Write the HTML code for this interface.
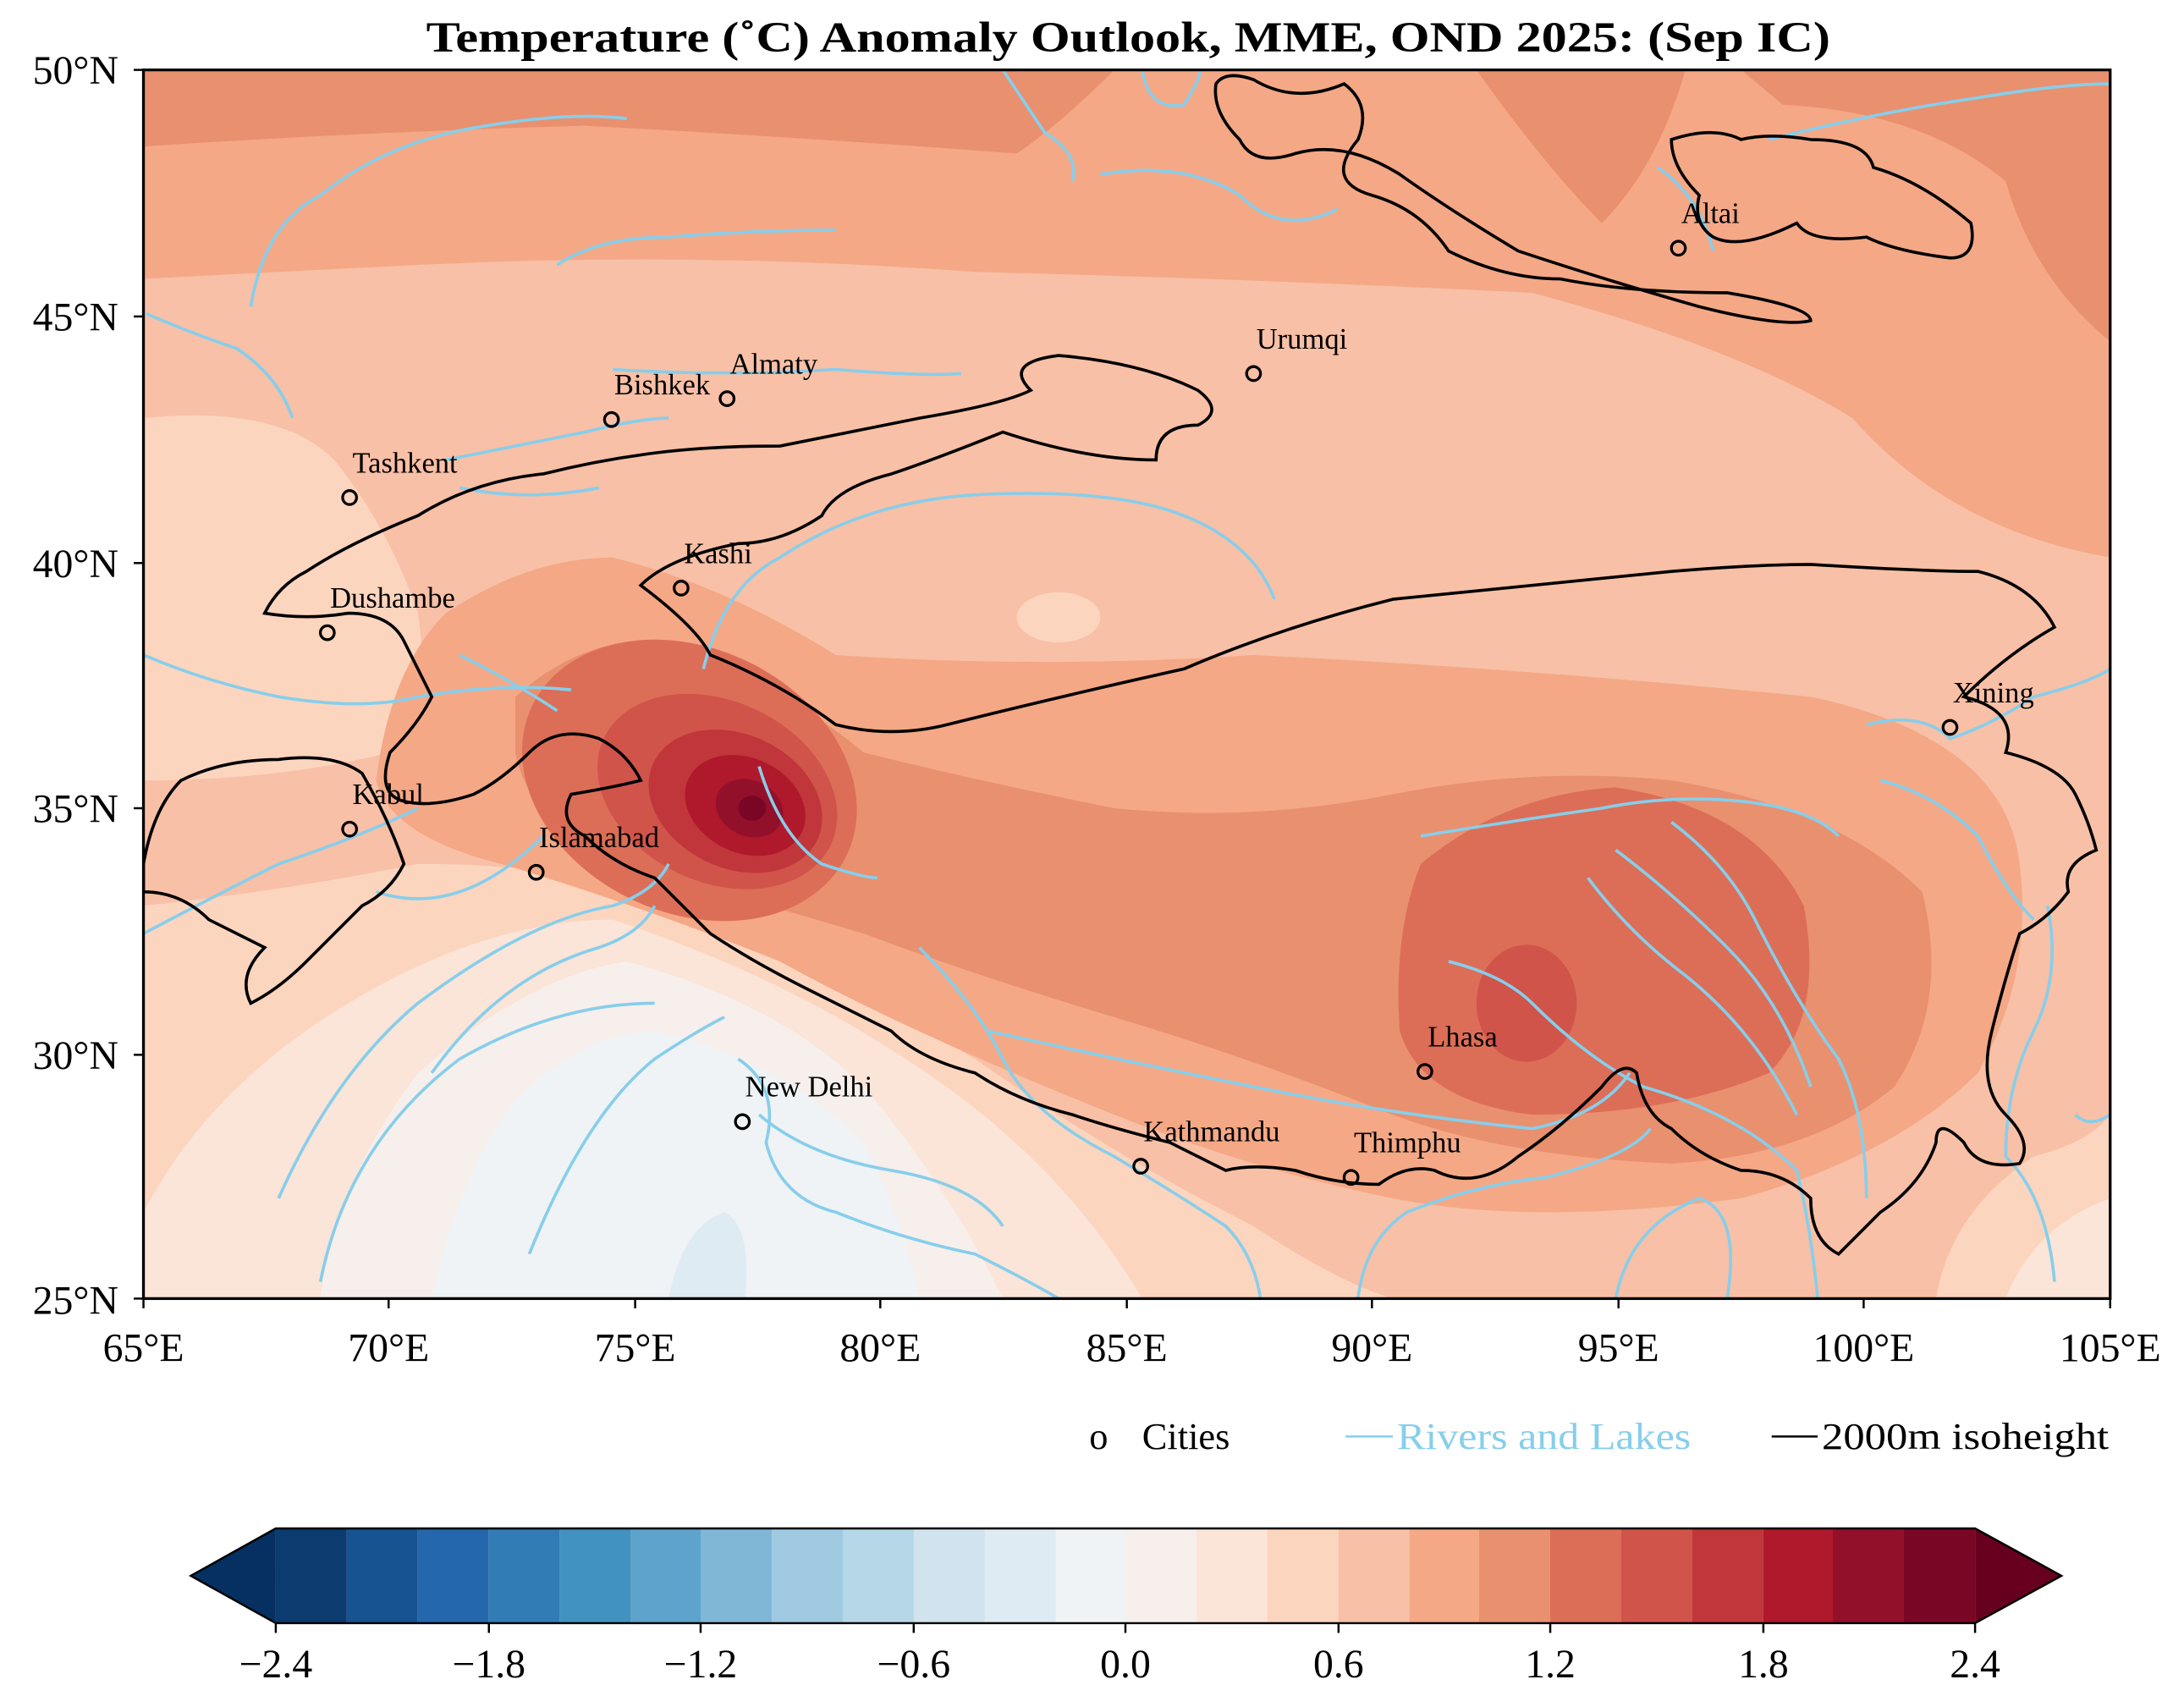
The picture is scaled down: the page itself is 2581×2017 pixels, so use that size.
<!DOCTYPE html>
<html><head><meta charset="utf-8"><style>html,body{margin:0;padding:0;background:#fff}svg{display:block}</style></head><body>
<svg width="2581" height="2017" viewBox="0 0 1568 1225" xmlns="http://www.w3.org/2000/svg" font-family="Liberation Serif, serif">
<defs><clipPath id="m"><rect x="103" y="50" width="1412" height="882"/></clipPath></defs>
<text x="810" y="37" text-anchor="middle" font-size="31" font-weight="bold" textLength="1008" lengthAdjust="spacingAndGlyphs">Temperature (˚C) Anomaly Outlook, MME, OND  2025:  (Sep IC)</text>
<g clip-path="url(#m)">
<rect x="103" y="50" width="1412" height="882" fill="#f8c0a6"/>
<path d="M103,50 H1515 V400 Q1400,380 1330,300 Q1250,250 1100,210 Q900,200 700,195 Q500,180 300,190 Q200,195 103,200 Z" fill="#f4a886"/>
<path d="M103,50 H800 Q760,90 730,110 Q600,100 420,90 Q250,95 103,105 Z" fill="#e9906f"/>
<path d="M1060,50 H1210 Q1190,120 1150,160 Q1110,120 1060,50 Z" fill="#e9906f"/>
<path d="M1250,50 H1515 V245 Q1460,200 1440,130 Q1380,80 1280,75 Z" fill="#e9906f"/>
<path d="M103,300 Q200,290 240,330 Q280,380 300,440 Q310,500 280,540 Q200,560 103,560 Z" fill="#fcd5bf"/>
<ellipse cx="760" cy="443" rx="30" ry="18" fill="#fcd5bf"/>
<path d="M103,650 Q200,640 300,620 Q420,620 500,650 Q600,700 700,760 Q800,830 900,880 Q960,920 1000,932 H103 Z" fill="#fcd5bf"/>
<path d="M103,870 Q150,780 250,720 Q350,660 440,660 Q560,700 650,760 Q760,830 820,932 H103 Z" fill="#fbe4d8"/>
<path d="M230,932 Q240,850 300,770 Q380,700 450,690 Q560,720 620,780 Q680,850 720,932 Z" fill="#f7efec"/>
<path d="M310,932 Q330,840 370,790 Q420,740 470,740 Q560,760 620,820 Q650,880 660,932 Z" fill="#eff3f5"/>
<path d="M480,932 Q490,880 520,870 Q540,880 535,932 Z" fill="#dfebf3"/>
<path d="M1390,932 Q1400,870 1460,830 Q1500,820 1515,800 V932 Z" fill="#fcd5bf"/>
<path d="M1440,932 Q1460,880 1515,860 V932 Z" fill="#fbe4d8"/>
<path d="M320,440 Q380,400 440,400 Q520,420 600,470 Q750,480 900,470 Q1100,480 1300,500 Q1440,530 1450,620 Q1460,700 1420,770 Q1360,830 1250,860 Q1100,880 1000,860 Q900,840 800,800 Q650,740 560,690 Q460,650 360,620 Q280,600 270,560 Q280,480 320,440 Z" fill="#f4a886"/>
<path d="M370,500 Q420,455 480,460 Q560,490 620,540 Q700,560 800,580 Q900,590 1000,570 Q1100,550 1200,560 Q1320,580 1380,640 Q1400,720 1360,780 Q1300,830 1200,835 Q1080,830 1000,800 Q900,760 800,730 Q700,700 620,670 Q520,640 440,620 Q380,590 370,540 Z" fill="#e9906f"/>
<path d="M1020,620 Q1080,570 1160,565 Q1260,580 1295,650 Q1310,730 1270,770 Q1200,800 1100,800 Q1020,790 1005,740 Q1000,670 1020,620 Z" fill="#dc6e57"/>
<ellipse cx="1096" cy="720" rx="36" ry="42" fill="#d0544a"/>
<ellipse cx="495" cy="560" rx="125" ry="95" transform="rotate(25 495 560)" fill="#dc6e57"/>
<ellipse cx="515" cy="568" rx="90" ry="65" transform="rotate(25 515 568)" fill="#d0544a"/>
<ellipse cx="528" cy="575" rx="65" ry="48" transform="rotate(25 528 575)" fill="#c0363a"/>
<ellipse cx="535" cy="578" rx="45" ry="34" transform="rotate(25 535 578)" fill="#b0182c"/>
<ellipse cx="538" cy="580" rx="25" ry="20" transform="rotate(25 538 580)" fill="#93102a"/>
<ellipse cx="540" cy="580" rx="10" ry="9" fill="#790624"/>
<g fill="none" stroke="#87ceeb" stroke-width="2.2">
<path d="M720,50 Q740,80 750,95 Q775,110 770,130"/>
<path d="M820,50 Q825,80 850,75 Q860,60 862,50"/>
<path d="M180,220 Q190,160 230,140 Q280,100 350,90 Q410,80 450,85"/>
<path d="M400,190 Q430,170 480,170 Q540,165 600,165"/>
<path d="M105,225 Q140,240 170,250 Q200,270 210,300"/>
<path d="M440,265 Q520,270 600,265 Q660,270 690,268"/>
<path d="M790,125 Q850,115 890,140 Q920,170 960,150"/>
<path d="M1270,100 Q1350,80 1420,70 Q1480,60 1515,60"/>
<path d="M1190,120 Q1220,140 1230,180"/>
<path d="M320,330 Q370,320 420,310 Q460,300 480,300"/>
<path d="M330,350 Q380,360 430,350"/>
<path d="M505,480 Q520,420 560,400 Q620,360 700,355 Q800,350 850,370 Q900,390 915,430"/>
<path d="M103,470 Q150,490 200,500 Q260,510 300,500 Q360,490 410,495"/>
<path d="M330,470 Q370,490 400,510"/>
<path d="M103,670 Q160,640 200,620 Q260,600 300,580"/>
<path d="M270,640 Q300,650 330,640 Q360,630 390,600"/>
<path d="M200,860 Q240,770 300,720 Q380,660 440,650 Q470,640 480,620"/>
<path d="M310,770 Q360,700 430,680 Q460,670 470,650"/>
<path d="M230,920 Q250,820 330,760 Q400,720 470,720"/>
<path d="M380,900 Q420,800 470,760 Q500,740 520,730"/>
<path d="M545,550 Q560,600 590,620 Q620,630 630,630"/>
<path d="M530,760 Q560,780 550,820 Q560,860 600,870 Q650,890 700,900 Q740,920 760,932"/>
<path d="M545,800 Q580,830 640,840 Q700,850 720,880"/>
<path d="M660,680 Q700,720 720,760 Q740,800 800,830 Q850,860 880,880 Q900,900 905,932"/>
<path d="M710,740 Q800,760 900,780 Q1000,800 1100,810 Q1150,800 1170,770"/>
<path d="M975,932 Q980,890 1010,870 Q1060,850 1110,845 Q1170,830 1185,810"/>
<path d="M1020,600 Q1080,590 1150,580 Q1200,570 1250,575 Q1300,580 1320,600"/>
<path d="M1040,690 Q1080,700 1100,720 Q1140,760 1180,780 Q1250,800 1290,840 Q1300,880 1305,932"/>
<path d="M1140,630 Q1170,670 1210,700 Q1260,740 1290,800"/>
<path d="M1160,610 Q1200,640 1240,680 Q1280,720 1300,780"/>
<path d="M1200,590 Q1240,620 1260,660 Q1290,720 1320,760 Q1340,800 1340,860"/>
<path d="M1340,520 Q1380,510 1400,530 Q1430,520 1460,500 Q1500,490 1515,480"/>
<path d="M1350,560 Q1390,570 1420,600 Q1440,640 1460,660"/>
<path d="M1470,650 Q1480,700 1460,740 Q1440,780 1440,830 Q1470,860 1475,920"/>
<path d="M1490,800 Q1500,810 1515,800"/>
<path d="M1160,932 Q1170,880 1220,860 Q1250,870 1240,932"/>
</g>
<g fill="none" stroke="#000" stroke-width="2.2">
<path d="M873,60 Q880,50 900,57 Q930,75 965,60 Q985,75 975,100 Q950,130 985,140 Q1020,150 1040,180 Q1080,200 1120,200 Q1170,210 1240,210 Q1300,220 1300,230 Q1280,235 1220,220 Q1150,200 1090,180 Q1040,150 1005,125 Q965,100 930,110 Q900,120 890,100 Q870,80 873,60 Z"/>
<path d="M1200,100 Q1230,90 1250,100 Q1270,95 1300,100 Q1340,100 1345,120 Q1380,130 1415,160 Q1420,185 1400,185 Q1360,180 1340,170 Q1300,175 1290,160 Q1250,180 1230,170 Q1215,160 1220,140 Q1200,120 1200,100 Z"/>
<path d="M220,410 Q250,390 300,370 Q340,345 390,340 Q430,330 470,325 Q510,320 560,320 Q610,310 660,300 Q720,290 740,280 Q720,260 760,255 Q820,260 860,280 Q880,295 860,305 Q830,305 830,330 Q780,330 720,310 Q670,330 640,340 Q600,350 590,370 Q560,390 530,390 Q480,400 460,420 Q500,450 510,470 Q560,490 600,520 Q640,530 680,520 Q760,500 850,480 Q920,450 1000,430 Q1100,420 1200,410 Q1260,405 1300,405 Q1380,410 1420,410 Q1460,420 1475,450 Q1440,470 1410,500 Q1450,510 1440,540 Q1480,550 1490,570 Q1500,590 1505,610 Q1480,620 1485,640 Q1470,660 1450,670 Q1440,700 1430,740 Q1420,780 1440,800 Q1460,820 1450,835 Q1420,840 1410,820 Q1390,800 1390,820 Q1380,850 1350,870 Q1330,890 1320,900 Q1300,890 1300,860 Q1280,840 1250,840 Q1220,830 1200,810 Q1180,800 1175,770 Q1165,760 1150,780 Q1120,810 1090,830 Q1060,855 1030,840 Q1010,835 990,850 Q960,850 930,840 Q900,835 880,840 Q860,830 840,820 Q800,810 770,800 Q730,790 700,770 Q660,760 640,740 Q600,720 580,710 Q540,690 510,670 Q490,650 470,630 Q440,620 420,600 Q400,590 410,570 Q440,565 460,560 Q450,540 430,530 Q400,520 380,540 Q360,560 340,570 Q310,580 290,575 Q270,570 280,540 Q300,520 310,500 Q300,480 290,460 Q280,440 250,440 Q220,445 190,440 Q200,420 220,410 Z"/>
<path d="M103,620 Q110,580 130,560 Q160,545 200,545 Q240,540 260,555 Q280,590 290,620 Q280,640 260,650 Q240,670 220,690 Q200,710 180,720 Q170,700 190,680 Q170,670 150,660 Q130,640 103,640 Z"/>
</g>
</g>
<rect x="103" y="50" width="1412" height="882" fill="none" stroke="#000" stroke-width="2"/>
<g fill="none" stroke="#000" stroke-width="2">
<circle cx="1205" cy="178" r="5"/><circle cx="900" cy="268" r="5"/><circle cx="522" cy="286" r="5"/><circle cx="439" cy="301" r="5"/><circle cx="251" cy="357" r="5"/><circle cx="489" cy="422" r="5"/><circle cx="235" cy="454" r="5"/><circle cx="1400" cy="522" r="5"/><circle cx="251" cy="595" r="5"/><circle cx="385" cy="626" r="5"/><circle cx="1023" cy="769" r="5"/><circle cx="533" cy="805" r="5"/><circle cx="819" cy="837" r="5"/><circle cx="970" cy="845" r="5"/>
</g>
<g font-size="21">
<text x="1207" y="160">Altai</text><text x="902" y="250">Urumqi</text><text x="524" y="268">Almaty</text><text x="441" y="283">Bishkek</text><text x="253" y="339">Tashkent</text><text x="491" y="404">Kashi</text><text x="237" y="436">Dushambe</text><text x="1402" y="504">Xining</text><text x="253" y="577">Kabul</text><text x="387" y="608">Islamabad</text><text x="1025" y="751">Lhasa</text><text x="535" y="787">New Delhi</text><text x="821" y="819">Kathmandu</text><text x="972" y="827">Thimphu</text>
</g>
<g font-size="29" text-anchor="end">
<text x="85" y="60">50°N</text><text x="85" y="237">45°N</text><text x="85" y="414">40°N</text><text x="85" y="590">35°N</text><text x="85" y="767">30°N</text><text x="85" y="943">25°N</text>
</g>
<g stroke="#000" stroke-width="1.5">
<line x1="96" y1="50" x2="103" y2="50"/><line x1="96" y1="227" x2="103" y2="227"/><line x1="96" y1="404" x2="103" y2="404"/><line x1="96" y1="580" x2="103" y2="580"/><line x1="96" y1="757" x2="103" y2="757"/><line x1="96" y1="932" x2="103" y2="932"/>
<line x1="103" y1="932" x2="103" y2="939"/><line x1="279" y1="932" x2="279" y2="939"/><line x1="456" y1="932" x2="456" y2="939"/><line x1="632" y1="932" x2="632" y2="939"/><line x1="809" y1="932" x2="809" y2="939"/><line x1="985" y1="932" x2="985" y2="939"/><line x1="1162" y1="932" x2="1162" y2="939"/><line x1="1338" y1="932" x2="1338" y2="939"/><line x1="1515" y1="932" x2="1515" y2="939"/>
</g>
<g font-size="29" text-anchor="middle">
<text x="103" y="977">65°E</text><text x="279" y="977">70°E</text><text x="456" y="977">75°E</text><text x="632" y="977">80°E</text><text x="809" y="977">85°E</text><text x="985" y="977">90°E</text><text x="1162" y="977">95°E</text><text x="1338" y="977">100°E</text><text x="1515" y="977">105°E</text>
</g>
<g font-size="27">
<text x="782" y="1040">o</text><text x="820" y="1040">Cities</text>
<line x1="966" y1="1031" x2="1000" y2="1031" stroke="#87ceeb" stroke-width="1.5"/><text x="1003" y="1040" fill="#87ceeb" textLength="211" lengthAdjust="spacingAndGlyphs">Rivers and Lakes</text>
<line x1="1272" y1="1031" x2="1305" y2="1031" stroke="#000" stroke-width="1.5"/><text x="1308" y="1040" textLength="206" lengthAdjust="spacingAndGlyphs">2000m isoheight</text>
</g>
<g>
<polygon points="137,1131 198,1097 198,1165" fill="#053061"/>
<polygon points="1480,1131 1418,1097 1418,1165" fill="#67001f"/>
<rect x="198" y="1097" width="51" height="68" fill="#0b3b6f"/>
<rect x="249" y="1097" width="51" height="68" fill="#175390"/>
<rect x="300" y="1097" width="51" height="68" fill="#2467ac"/>
<rect x="351" y="1097" width="51" height="68" fill="#327cb6"/>
<rect x="402" y="1097" width="51" height="68" fill="#4192c1"/>
<rect x="453" y="1097" width="51" height="68" fill="#5ea3cb"/>
<rect x="503" y="1097" width="52" height="68" fill="#80b7d6"/>
<rect x="554" y="1097" width="52" height="68" fill="#9fcae1"/>
<rect x="605" y="1097" width="52" height="68" fill="#b5d7e8"/>
<rect x="656" y="1097" width="52" height="68" fill="#d0e3ee"/>
<rect x="707" y="1097" width="52" height="68" fill="#dfebf3"/>
<rect x="758" y="1097" width="51" height="68" fill="#eff3f5"/>
<rect x="808" y="1097" width="52" height="68" fill="#f7efec"/>
<rect x="859" y="1097" width="52" height="68" fill="#fbe4d8"/>
<rect x="910" y="1097" width="52" height="68" fill="#fcd5bf"/>
<rect x="961" y="1097" width="52" height="68" fill="#f8c0a6"/>
<rect x="1012" y="1097" width="51" height="68" fill="#f4a886"/>
<rect x="1062" y="1097" width="52" height="68" fill="#e9906f"/>
<rect x="1113" y="1097" width="52" height="68" fill="#dc6e57"/>
<rect x="1164" y="1097" width="52" height="68" fill="#d0544a"/>
<rect x="1215" y="1097" width="51" height="68" fill="#c0363a"/>
<rect x="1266" y="1097" width="51" height="68" fill="#b0182c"/>
<rect x="1316" y="1097" width="52" height="68" fill="#93102a"/>
<rect x="1367" y="1097" width="51" height="68" fill="#790624"/>
<polygon points="137,1131 198,1097 1418,1097 1480,1131 1418,1165 198,1165" fill="none" stroke="#000" stroke-width="1.5"/>
<g stroke="#000" stroke-width="1.5">
<line x1="198" y1="1165" x2="198" y2="1172"/><line x1="351" y1="1165" x2="351" y2="1172"/><line x1="503" y1="1165" x2="503" y2="1172"/><line x1="656" y1="1165" x2="656" y2="1172"/><line x1="808" y1="1165" x2="808" y2="1172"/><line x1="961" y1="1165" x2="961" y2="1172"/><line x1="1113" y1="1165" x2="1113" y2="1172"/><line x1="1266" y1="1165" x2="1266" y2="1172"/><line x1="1418" y1="1165" x2="1418" y2="1172"/>
</g>
<g font-size="29" text-anchor="middle">
<text x="198" y="1204">−2.4</text><text x="351" y="1204">−1.8</text><text x="503" y="1204">−1.2</text><text x="656" y="1204">−0.6</text><text x="808" y="1204">0.0</text><text x="961" y="1204">0.6</text><text x="1113" y="1204">1.2</text><text x="1266" y="1204">1.8</text><text x="1418" y="1204">2.4</text>
</g>
</g>
</svg>
</body></html>
